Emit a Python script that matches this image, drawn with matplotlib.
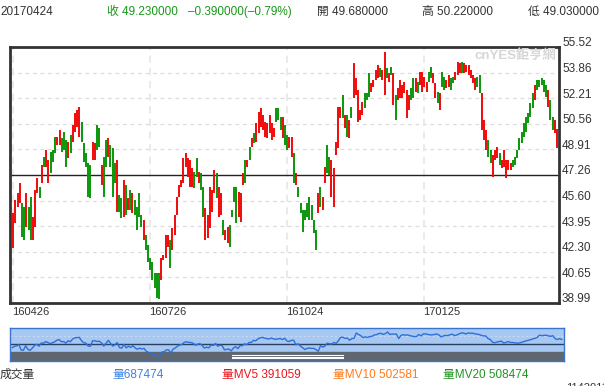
import numpy as np
import matplotlib
matplotlib.use("Agg")
import matplotlib.pyplot as plt
from matplotlib.transforms import blended_transform_factory, offset_copy
from matplotlib.patches import Rectangle

plt.rcParams['font.family'] = ['Liberation Sans', 'Noto Sans CJK TC', 'DejaVu Sans']

# 日K資料 (讀圖估計): 最高, 最低, 是否收紅
high = [44.80, 45.64, 46.09, 46.74, 45.45, 45.19, 46.09, 45.19, 45.83, 44.54,
        46.29, 47.06, 46.48, 47.90, 48.42, 48.87, 48.22, 48.74, 48.87, 49.71,
        49.71, 50.16, 49.64, 50.03, 49.52, 49.39, 49.84, 50.48, 51.26, 51.45,
        51.65, 50.68, 49.32, 48.68, 48.03, 47.90, 49.39, 49.32, 50.48, 50.29,
        47.90, 48.42, 49.52, 49.64, 49.19, 49.00, 48.03, 48.22, 45.96, 45.77,
        46.93, 46.61, 45.77, 46.29, 46.09, 45.64, 45.19, 46.09, 44.67, 44.35,
        43.38, 42.74, 41.90, 41.64, 40.93, 40.93, 40.93, 41.90, 42.09, 43.38,
        43.38, 43.06, 43.83, 44.67, 45.83, 46.61, 46.93, 48.35, 48.68, 48.35,
        48.22, 47.71, 47.45, 48.35, 47.45, 47.38, 46.48, 45.12, 44.67, 46.48,
        46.29, 47.58, 47.38, 46.48, 46.09, 44.35, 43.70, 43.90, 44.03, 45.00,
        46.48, 46.48, 46.16, 46.09, 47.38, 48.22, 48.22, 49.06, 49.64, 49.97,
        50.61, 51.32, 51.58, 51.13, 50.68, 50.61, 51.13, 50.61, 50.29, 51.58,
        51.58, 51.00, 51.00, 50.48, 49.84, 49.71, 49.71, 48.68, 47.38, 46.48,
        45.45, 45.00, 45.00, 45.45, 45.83, 45.32, 44.35, 43.70, 46.09, 46.48,
        45.83, 47.77, 49.19, 48.42, 48.22, 47.71, 49.39, 51.65, 51.65, 52.42,
        51.13, 51.13, 50.81, 51.65, 54.49, 53.52, 52.74, 51.45, 51.97, 52.55,
        52.55, 53.84, 53.20, 53.39, 54.03, 54.36, 54.16, 54.03, 55.20, 54.16,
        53.84, 54.23, 53.84, 52.42, 52.87, 53.39, 53.07, 53.26, 52.74, 52.42,
        52.87, 53.52, 53.52, 53.26, 53.91, 53.91, 53.58, 53.26, 53.91, 54.23,
        53.84, 53.20, 52.61, 52.55, 53.91, 53.58, 53.39, 53.71, 53.52, 53.58,
        53.91, 54.55, 54.49, 54.55, 54.49, 54.36, 54.36, 54.03, 53.71, 53.52,
        53.58, 53.71, 52.55, 50.81, 50.16, 49.52, 48.87, 48.55, 48.87, 49.06,
        48.68, 48.22, 48.87, 48.22, 48.22, 48.03, 48.22, 48.42, 48.87, 49.64,
        50.03, 50.61, 51.00, 51.26, 51.90, 52.55, 53.07, 53.39, 53.39, 53.52,
        53.39, 53.07, 52.74, 52.10, 51.00, 50.81, 50.22]
low = [42.54, 44.16, 45.19, 45.45, 43.25, 43.06, 43.90, 43.70, 43.06, 43.06,
       43.90, 46.09, 45.77, 46.74, 47.77, 47.77, 46.74, 47.38, 48.09, 48.68,
       49.19, 49.19, 48.74, 48.87, 47.77, 48.35, 48.68, 49.39, 50.03, 50.35,
       49.71, 49.39, 48.09, 47.77, 45.83, 45.77, 48.22, 48.22, 48.87, 49.06,
       46.61, 45.83, 47.77, 48.42, 47.77, 45.83, 46.74, 44.87, 44.87, 44.48,
       44.54, 44.67, 45.00, 45.00, 44.80, 44.67, 43.70, 44.54, 43.90, 43.06,
       42.41, 41.64, 41.12, 40.48, 39.96, 39.31, 39.25, 40.48, 41.77, 41.90,
       42.61, 41.25, 42.41, 43.38, 44.67, 45.83, 46.48, 46.74, 47.77, 47.13,
       46.48, 46.48, 46.42, 47.13, 46.74, 46.29, 44.54, 43.06, 43.19, 43.83,
       44.87, 46.09, 45.77, 44.54, 44.67, 43.38, 43.06, 42.86, 42.61, 44.54,
       45.51, 44.16, 44.54, 44.22, 46.61, 46.74, 47.77, 48.22, 49.06, 49.32,
       49.39, 49.97, 50.35, 50.16, 49.71, 49.64, 49.97, 49.52, 49.71, 50.68,
       50.81, 50.16, 49.64, 49.19, 48.87, 49.00, 48.42, 46.74, 46.61, 45.83,
       44.80, 43.57, 44.35, 44.54, 44.35, 44.35, 43.51, 42.41, 44.80, 45.19,
       45.00, 46.74, 47.38, 47.26, 45.83, 45.19, 48.55, 49.00, 50.94, 50.94,
       50.29, 49.71, 49.64, 50.94, 52.23, 52.42, 50.68, 50.81, 51.13, 51.58,
       52.10, 52.29, 52.61, 52.94, 53.39, 53.52, 53.58, 53.39, 52.42, 53.52,
       53.26, 53.71, 51.77, 50.81, 52.10, 52.23, 52.23, 52.55, 50.94, 51.45,
       52.10, 52.23, 52.61, 52.55, 53.07, 52.61, 52.94, 52.61, 53.26, 53.52,
       53.20, 52.23, 51.90, 51.45, 52.94, 52.74, 52.87, 52.94, 52.74, 53.20,
       53.39, 53.71, 53.84, 53.84, 53.84, 53.91, 53.71, 53.52, 53.20, 52.74,
       52.94, 52.55, 50.16, 49.52, 48.87, 48.42, 48.03, 47.13, 48.22, 48.35,
       47.90, 47.71, 47.77, 47.06, 47.58, 47.58, 47.77, 47.90, 48.35, 48.87,
       49.32, 49.71, 50.03, 50.61, 51.00, 51.58, 52.10, 52.74, 52.94, 53.07,
       52.61, 52.29, 51.65, 50.81, 50.16, 49.97, 49.03]
rise = "uuuuddudduuududuuddduuddduduuuuddddduuddudduddduddudududddduddddddduuuuduuuuuuuuuuddudduuuuuduuduudddduuudududuuuuuuuuudddudduududdddddddduduudduuuuudududuuuuuddduuuuduudududuuuuuudduduuuudduududduudduuuduuuuuudduuudduuuduuuuuddddddddddudddddudduuuuuuuuuuuuuudududdddd"

dates = ["160426", "160726", "161024", "170125"]
date_idx = [0, 62, 124, 186]
y_ticks = [38.99, 40.65, 42.30, 43.95, 45.60, 47.26, 48.91, 50.56, 52.21, 53.86, 55.52]
ref_line = 47.26

header_date = "20170424"
last_close, last_chg, last_pct = 49.23, -0.39, -0.79
last_open, last_high, last_low = 49.68, 50.22, 49.03

vol_labels = ["量687474", "量MV5 391059", "量MV10 502581", "量MV20 508474"]
vol_colors = ["#3a82e4", "#e8161b", "#ff7a1a", "#1f961f"]

RED = "#f00a0a"
GREEN = "#0a960a"

high = np.array(high)
low = np.array(low)
up = np.array([c == "u" for c in rise[:len(high)]])
n = len(high)
idx = np.arange(n)
close = np.where(up, high, low)

fig = plt.figure(figsize=(6.04, 3.86), dpi=100)
W, H = 604.0, 386.0

# ---- 主圖 ----
ax = fig.add_axes([10 / W, 83 / H, 549 / W, 256 / H])
ax.set_xlim(-1.4, n - 0.1)
ax.set_ylim(y_ticks[0], y_ticks[-1])
for v in y_ticks:
    if v != ref_line:
        ax.axhline(v, color="#dcdcdc", lw=0.9, ls=(0, (3, 3)), zorder=0)
for d in date_idx:
    ax.axvline(d, color="#e8e8e8", lw=1.3, ls=(0, (4, 3)), zorder=0)
ax.axhline(ref_line, color="#222222", lw=1.0, zorder=1)

colors = np.where(up, RED, GREEN)
ax.vlines(idx, low, high, colors=colors, lw=1.4, zorder=2)

ax.set_xticks([])
ax.set_yticks([])
for s in ax.spines.values():
    s.set_color("#333333")
    s.set_linewidth(2)

ax.text(0.995, 0.965, "cnYES鉅亨網", transform=ax.transAxes, ha="right", va="center",
        fontsize=9.5, fontweight="bold", color="#d6d6d6", zorder=3)

tr = blended_transform_factory(ax.transAxes, ax.transData)
tr = offset_copy(tr, fig=fig, x=3, y=3.5, units="dots")
for v in y_ticks:
    ax.text(1.0, v, f"{v:.2f}", transform=tr, ha="left", va="center",
            fontsize=8.5, color="#333333", clip_on=False)

trx = blended_transform_factory(ax.transData, ax.transAxes)
trx = offset_copy(trx, fig=fig, x=-1, y=-9, units="dots")
for d, lab in zip(date_idx, dates):
    ax.text(d, 0, lab, transform=trx, ha="left", va="center", fontsize=8,
            color="#333333", clip_on=False)

# ---- 標題列 ----
hy = 1 - 12 / H
fig.text(0 / W, hy, header_date, fontsize=8.5, color="#333333", va="center")
fig.text(107 / W, hy, f"收 {last_close:.6f}", fontsize=8.5, color="#1a961a", va="center")
fig.text(188 / W, hy, f"{last_chg:.6f}({last_pct:.2f}%)".replace("-", "–"),
         fontsize=8.5, color="#1a961a", va="center")
fig.text(317 / W, hy, f"開 {last_open:.6f}", fontsize=8.5, color="#333333", va="center")
fig.text(422 / W, hy, f"高 {last_high:.6f}", fontsize=8.5, color="#333333", va="center")
fig.text(528 / W, hy, f"低 {last_low:.6f}", fontsize=8.5, color="#333333", va="center")

# ---- 導覽列 ----
nav = fig.add_axes([10 / W, 25 / H, 554 / W, 33 / H])
nav.set_facecolor("#a7c8f2")
nav.set_xlim(-1, n)
nav.set_ylim(36.0, 57.8)
nav.add_patch(Rectangle((0, 0), 1, 9 / 33, transform=nav.transAxes,
                        color="#5e6670", zorder=1))
for hy2 in [0.18, 0.135, 0.09]:
    nav.plot([0.40, 0.601], [hy2, hy2], transform=nav.transAxes,
             color="white", lw=0.8, zorder=2)
nav.axhline(52.5, color="#c9d9ef", lw=0.8, ls=(0, (2, 2)), zorder=1)
nav.axhline(ref_line, color="#2a3f5c", lw=1.0, zorder=2)
nav.plot(idx, close, color="#2f6fd8", lw=1.0, zorder=3)
nav.set_xticks([])
nav.set_yticks([])
for s in nav.spines.values():
    s.set_color("#3a74cf")
    s.set_linewidth(1.0)

# ---- 成交量 ----
ly = 1 - 375 / H
fig.text(0, ly, "成交量", fontsize=8.5, color="#333333", va="center")
for x0, lab, c in zip([112, 222, 333, 443], vol_labels, vol_colors):
    fig.text(x0 / W, ly, lab, fontsize=8.5, color=c, va="center")
fig.text(566 / W, -2 / H, "1142011", fontsize=8, color="#333333", va="center")

fig.savefig("out.png", dpi=100)
